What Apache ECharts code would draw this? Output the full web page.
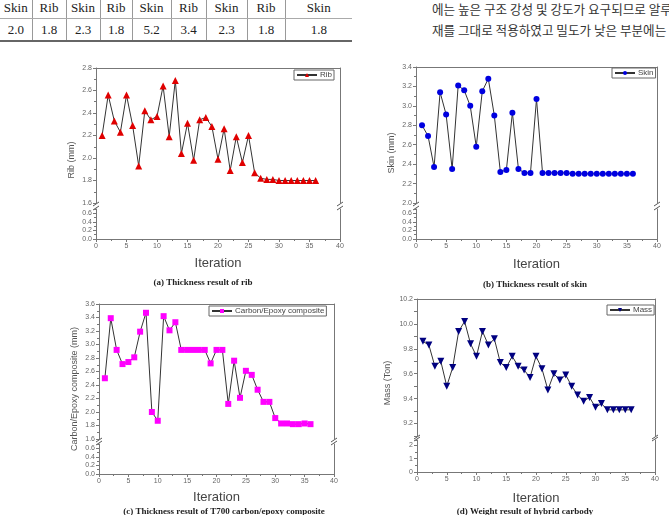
<!DOCTYPE html>
<html>
<head>
<meta charset="utf-8">
<script src="https://cdn.jsdelivr.net/npm/echarts@6/dist/echarts.min.js"></script>
<style>
html, body { margin: 0; padding: 0; background: #fff; overflow: hidden; }
#wrap { position: relative; width: 669px; height: 515px; overflow: hidden; }
#chart { position: absolute; left: 0; top: 0; width: 669px; height: 515px; }
#tbl { position: absolute; left: 0; top: -3px; border-collapse: collapse; table-layout: fixed;
       font-family: "Liberation Serif", serif; font-size: 13px; color: #222; }
#tbl td { text-align: center; padding: 0; border-left: 1px solid #999; height: 21px; line-height: 21px; }
#tbl td:first-child { border-left: none; }
#tbl tr.head td { border-bottom: 1px solid #aaa; }
#tbl tr.vals td { border-bottom: 2px solid #666; }
#kor { position: absolute; left: 432px; top: -2px; white-space: nowrap;
       font-family: "Noto Sans CJK KR", sans-serif; font-size: 12.6px; line-height: 21px; color: #333; }
</style>
</head>
<body>
<div id="wrap">
  <table id="tbl"></table>
  <div id="kor"></div>
  <div id="chart"></div>
</div>
<script>
// 표 (잘린 윗부분)
var tableHead = ['Skin', 'Rib', 'Skin', 'Rib', 'Skin', 'Rib', 'Skin', 'Rib', 'Skin'];
var tableVals = ['2.0', '1.8', '2.3', '1.8', '5.2', '3.4', '2.3', '1.8', '1.8'];
var tableColW = [32, 34, 34, 32, 39, 35, 41, 38, 67];
var korLines = ['에는 높은 구조 강성 및 강도가 요구되므로 알루',
                '재를 그대로 적용하였고 밀도가 낮은 부분에는'];

// 반복 횟수
var iterations = [1, 2, 3, 4, 5, 6, 7, 8, 9, 10, 11, 12, 13, 14, 15, 16, 17, 18,
                  19, 20, 21, 22, 23, 24, 25, 26, 27, 28, 29, 30, 31, 32, 33, 34, 35, 36];
var ribThk = [2.20, 2.56, 2.33, 2.23, 2.56, 2.29, 1.93, 2.42, 2.34, 2.37,
              2.64, 2.19, 2.69, 2.04, 2.31, 1.98, 2.34, 2.36, 2.28, 1.99,
              2.26, 1.89, 2.19, 1.96, 2.20, 1.87, 1.82, 1.81, 1.81, 1.80,
              1.80, 1.80, 1.80, 1.80, 1.80, 1.80];
var skinThk = [2.80, 2.69, 2.37, 3.14, 2.91, 2.35, 3.21, 3.16, 3.00, 2.58,
               3.15, 3.28, 2.90, 2.32, 2.34, 2.93, 2.35, 2.31, 2.31, 3.07,
               2.31, 2.31, 2.31, 2.31, 2.31, 2.30, 2.30, 2.30, 2.30, 2.30,
               2.30, 2.30, 2.30, 2.30, 2.30, 2.30];
var cfrpThk = [2.50, 3.39, 2.92, 2.71, 2.74, 2.81, 3.19, 3.47, 2.00, 1.87,
               3.42, 3.21, 3.33, 2.92, 2.92, 2.92, 2.92, 2.92, 2.72, 2.92,
               2.92, 2.12, 2.76, 2.21, 2.61, 2.55, 2.33, 2.15, 2.15, 1.91,
               1.83, 1.83, 1.82, 1.82, 1.83, 1.82];
var massTon = [9.86, 9.83, 9.66, 9.70, 9.50, 9.65, 9.94, 10.02, 9.84, 9.74,
               9.94, 9.83, 9.88, 9.69, 9.65, 9.74, 9.66, 9.63, 9.57, 9.74,
               9.64, 9.47, 9.60, 9.55, 9.59, 9.50, 9.43, 9.38, 9.41, 9.33,
               9.36, 9.31, 9.31, 9.31, 9.31, 9.31];

// table
var html = '<colgroup>';
for (var i = 0; i < tableColW.length; i++) html += '<col style="width:' + tableColW[i] + 'px">';
html += '</colgroup><tr class="head">';
for (var i = 0; i < tableHead.length; i++) html += '<td>' + tableHead[i] + '</td>';
html += '</tr><tr class="vals">';
for (var i = 0; i < tableVals.length; i++) html += '<td>' + tableVals[i] + '</td>';
html += '</tr>';
document.getElementById('tbl').innerHTML = html;
document.getElementById('kor').innerHTML = korLines.join('<br>');

var axisColor = '#777';
var labelStyle = { fontSize: 7, color: '#666', fontFamily: 'Arial, "Liberation Sans"', margin: 4 };

var option = {
    animation: false,
    backgroundColor: 'transparent',
    grid: [], xAxis: [], yAxis: [], series: [], legend: [], graphic: []
};

function pairs(ys) {
    var out = [];
    for (var i = 0; i < ys.length; i++) out.push([iterations[i], ys[i]]);
    return out;
}

function breakMark(x, y) {
    return {
        type: 'line', silent: true,
        shape: { x1: x - 3, y1: y + 2, x2: x + 3, y2: y - 2 },
        style: { stroke: '#555', lineWidth: 1 }
    };
}

function addPanel(p) {
    var g = option.grid.length, xi = option.xAxis.length, yi = option.yAxis.length;
    var lowerTop = p.top + p.upperH + p.gap;
    option.grid.push({ left: p.left, top: p.top, width: p.width, height: p.upperH });
    option.grid.push({ left: p.left, top: lowerTop, width: p.width, height: p.lowerH });

    var line = { show: true, lineStyle: { color: axisColor, width: 1 } };
    // upper x (top border), lower x (real axis)
    option.xAxis.push({ type: 'value', gridIndex: g, position: 'top', min: 0, max: 40,
        axisLine: line, axisTick: { show: false }, axisLabel: { show: false }, splitLine: { show: false } });
    option.xAxis.push({ type: 'value', gridIndex: g + 1, position: 'bottom', min: 0, max: 40, interval: 5,
        axisLine: line, axisTick: { length: 3, lineStyle: { color: axisColor } },
        minorTick: { show: true, splitNumber: 2, length: 2, lineStyle: { color: axisColor } },
        axisLabel: labelStyle, splitLine: { show: false },
        name: 'Iteration', nameLocation: 'middle', nameGap: p.nameGap,
        nameTextStyle: { fontSize: 13, color: '#444', fontFamily: 'Arial, "Liberation Sans"' } });

    // upper y left / right, lower y left / right
    option.yAxis.push({ type: 'value', gridIndex: g, min: p.uMin, max: p.uMax, interval: p.uInt,
        axisLine: line, axisTick: { length: 3, lineStyle: { color: axisColor } },
        minorTick: { show: true, splitNumber: p.uMinor, length: 2, lineStyle: { color: axisColor } },
        axisLabel: Object.assign({}, labelStyle, { formatter: p.uFmt }), splitLine: { show: false } });
    option.yAxis.push({ type: 'value', gridIndex: g, position: 'right', min: p.uMin, max: p.uMax,
        axisLine: line, axisTick: { show: false }, axisLabel: { show: false }, splitLine: { show: false } });
    option.yAxis.push({ type: 'value', gridIndex: g + 1, min: 0, max: p.lMax, interval: p.lInt,
        axisLine: line, axisTick: { length: 3, lineStyle: { color: axisColor } },
        minorTick: { show: true, splitNumber: 2, length: 2, lineStyle: { color: axisColor } },
        axisLabel: Object.assign({}, labelStyle, { formatter: p.lFmt }), splitLine: { show: false } });
    option.yAxis.push({ type: 'value', gridIndex: g + 1, position: 'right', min: 0, max: p.lMax,
        axisLine: line, axisTick: { show: false }, axisLabel: { show: false }, splitLine: { show: false } });

    option.series.push({
        name: p.name, type: 'line', xAxisIndex: xi, yAxisIndex: yi,
        data: pairs(p.data), symbol: p.symbol, symbolSize: p.symbolSize, symbolRotate: p.rotate || 0,
        lineStyle: { color: '#333', width: 1 },
        itemStyle: { color: p.color }
    });

    option.legend.push({
        data: [p.name], left: p.legLeft, top: p.legTop, padding: [1, 2], itemGap: 0,
        itemWidth: 20, itemHeight: 5, borderColor: '#666', borderWidth: 1, borderRadius: 0,
        textStyle: { fontSize: 8, color: '#444', fontFamily: 'Arial, "Liberation Sans"', padding: [0, 0, 0, -2] }
    });

    var yb = p.top + p.upperH;
    option.graphic.push(breakMark(p.left, yb + 1), breakMark(p.left, lowerTop - 1),
                        breakMark(p.left + p.width, yb + 1), breakMark(p.left + p.width, lowerTop - 1));
    option.graphic.push({
        type: 'text', x: p.ytX, y: p.ytY, rotation: Math.PI / 2, silent: true,
        style: { text: p.yTitle, font: '9px Arial, "Liberation Sans"', fill: '#555',
                 textAlign: 'center', textVerticalAlign: 'middle' }
    });
    option.graphic.push({
        type: 'text', x: p.capX, y: p.capY, silent: true,
        style: { text: p.caption, font: 'bold 9px "Liberation Serif"', fill: '#222',
                 textAlign: 'center', textVerticalAlign: 'middle' }
    });
}

var fmt1 = function (v) { return v.toFixed(1); };
var fmtLow = function (v) { return v > 0.65 ? '' : v.toFixed(1); };

addPanel({ name: 'Rib', data: ribThk, symbol: 'triangle', symbolSize: 7, color: '#e00000',
    left: 96, top: 68, width: 244, upperH: 135, gap: 6, lowerH: 30, nameGap: 18,
    uMin: 1.6, uMax: 2.8, uInt: 0.2, uMinor: 2, uFmt: fmt1, lMax: 0.7, lInt: 0.2, lFmt: fmtLow,
    legLeft: 294, legTop: 70, yTitle: 'Rib (mm)', ytX: 72, ytY: 160,
    caption: '(a) Thickness result of rib', capX: 203, capY: 283 });

addPanel({ name: 'Skin', data: skinThk, symbol: 'circle', symbolSize: 6, color: '#0000e0',
    left: 416, top: 67, width: 241, upperH: 136, gap: 6, lowerH: 30, nameGap: 19,
    uMin: 2.0, uMax: 3.4, uInt: 0.2, uMinor: 2, uFmt: fmt1, lMax: 0.7, lInt: 0.2, lFmt: fmtLow,
    legLeft: 612, legTop: 68, yTitle: 'Skin (mm)', ytX: 392, ytY: 153,
    caption: '(b) Thickness result of skin', capX: 535, capY: 285 });

addPanel({ name: 'Carbon/Epoxy composite', data: cfrpThk, symbol: 'rect', symbolSize: 6, color: '#ff00ff',
    left: 99, top: 304, width: 235, upperH: 135, gap: 5, lowerH: 30, nameGap: 17,
    uMin: 1.6, uMax: 3.6, uInt: 0.2, uMinor: 2, uFmt: fmt1, lMax: 0.7, lInt: 0.2, lFmt: fmtLow,
    legLeft: 209, legTop: 306, yTitle: 'Carbon/Epoxy composite (mm)', ytX: 75, ytY: 389,
    caption: '(c) Thickness result of T700 carbon/epoxy composite', capX: 224, capY: 512 });

addPanel({ name: 'Mass', data: massTon, symbol: 'triangle', rotate: 180, symbolSize: 7, color: '#000080',
    left: 417, top: 299, width: 238, upperH: 137, gap: 4, lowerH: 32, nameGap: 20,
    uMin: 9.1, uMax: 10.2, uInt: 0.1, uMinor: 1,
    uFmt: function (v) { return Math.round(v * 10) % 2 === 0 ? v.toFixed(1) : ''; },
    lMax: 2.4, lInt: 1, lFmt: function (v) { return v > 2.2 ? '' : String(v); },
    legLeft: 607, legTop: 305, yTitle: 'Mass (Ton)', ytX: 388, ytY: 383,
    caption: '(d) Weight result of hybrid carbody', capX: 525, capY: 512 });

var myChart = echarts.init(document.getElementById('chart'));
myChart.setOption(option);
</script>
</body>
</html>
